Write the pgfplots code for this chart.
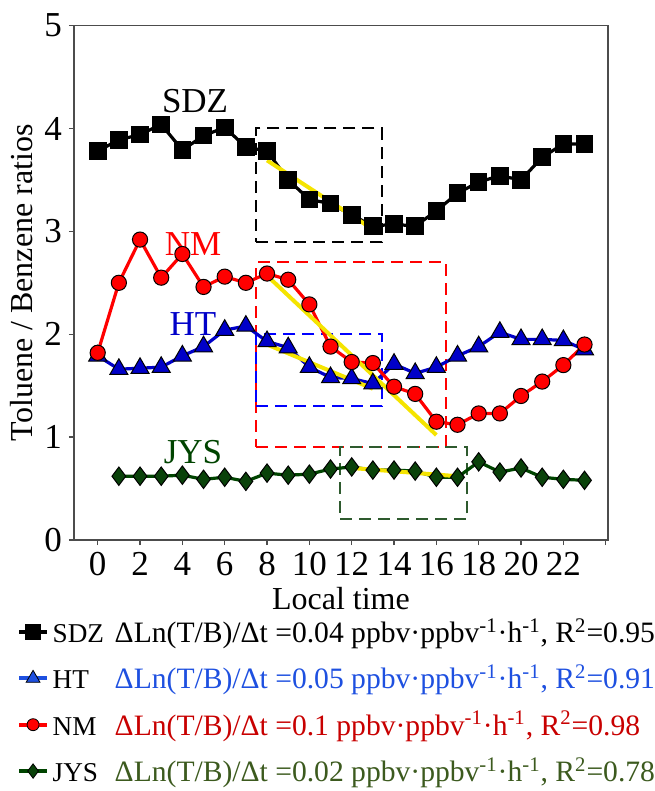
\documentclass[border=0pt]{standalone}
\usepackage{fontspec}
\setmainfont{Liberation Serif}
\usepackage{pgfplots}
\pgfplotsset{compat=1.18}

\definecolor{nmred}{HTML}{FF0000}
\definecolor{htblue}{HTML}{0000C8}
\definecolor{jysgreen}{HTML}{004400}
\definecolor{jysfill}{HTML}{0A420A}
\definecolor{fityellow}{HTML}{F5E400}
\definecolor{legblue}{HTML}{1E50E0}
\definecolor{legred}{HTML}{C80000}
\definecolor{leggreen}{HTML}{3C5A1E}
\definecolor{boxgreen}{HTML}{2E5A2E}

\pgfplotstableread{
hour sdz nm ht
0 3.78 1.82 1.79
1 3.89 2.50 1.66
2 3.94 2.92 1.67
3 4.04 2.55 1.68
4 3.79 2.78 1.79
5 3.93 2.46 1.88
6 4.01 2.56 2.04
7 3.82 2.50 2.08
8 3.78 2.59 1.93
9 3.50 2.53 1.87
10 3.31 2.29 1.68
11 3.27 1.88 1.58
12 3.16 1.73 1.57
13 3.05 1.72 1.52
14 3.07 1.49 1.71
15 3.05 1.42 1.62
16 3.20 1.15 1.68
17 3.37 1.12 1.79
18 3.48 1.23 1.88
19 3.54 1.23 2.02
20 3.50 1.40 1.95
21 3.72 1.54 1.95
22 3.85 1.70 1.94
23 3.85 1.90 1.85
}\ratios

\pgfplotstableread{
hour jys
1 0.62
2 0.62
3 0.62
4 0.63
5 0.59
6 0.61
7 0.57
8 0.65
9 0.63
10 0.64
11 0.69
12 0.71
13 0.68
14 0.68
15 0.67
16 0.61
17 0.61
18 0.76
19 0.66
20 0.70
21 0.61
22 0.59
23 0.58
}\jys

\newcommand{\stn}[1]{\makebox[31pt][l]{\fontsize{13.6}{15}\selectfont #1}}

\begin{document}
\begin{tikzpicture}
\useasboundingbox (-37pt,-125.5pt) rectangle (290pt,270pt);
\begin{axis}[
    scale only axis,
    width=266.9pt, height=257.2pt,
    xmin=-1.12, xmax=24.1, ymin=0, ymax=5,
    xtick={0,2,...,24},
    xticklabels={0,2,4,6,8,10,12,14,16,18,20,22,{}},
    ytick={0,1,...,5},
    tick align=outside,
    xtick pos=left, ytick pos=left,
    major tick length=2.5pt,
    axis line style={black!70, line width=0.7pt},
    every tick/.style={black!70, line width=0.7pt},
    /pgf/number format/assume math mode=true,
    tick label style={font=\fontsize{17.5}{17.5}\selectfont},
    label style={font=\fontsize{16}{16}\selectfont},
    xlabel={Local time},
    ylabel={Toluene / Benzene ratios},
    xlabel style={yshift=1pt},
    ylabel style={yshift=-1pt},
    legend cell align=left,
    legend style={
        at={(axis description cs:-0.118,-0.136)}, anchor=north west,
        draw=none, fill=none,
        font=\fontsize{14.8}{15}\selectfont,
        row sep=5.6pt,
    },
    legend image code/.code={
        \draw[mark repeat=2, mark phase=2]
            plot coordinates {(0cm,0cm) (0.24cm,0cm) (0.48cm,0cm)};
    },
]
% dashed boxes around the fitted periods
\addplot[forget plot, black, line width=1pt, dash pattern=on 6pt off 3.5pt]
    coordinates {(7.5,2.9) (13.45,2.9) (13.45,4.0) (7.5,4.0) (7.5,2.9)};
\addplot[forget plot, red, line width=1pt, dash pattern=on 6pt off 3.5pt]
    coordinates {(7.5,0.9) (16.45,0.9) (16.45,2.7) (7.5,2.7) (7.5,0.9)};
\addplot[forget plot, blue, line width=1pt, dash pattern=on 6pt off 3.5pt]
    coordinates {(7.5,1.3) (13.45,1.3) (13.45,2.0) (7.5,2.0) (7.5,1.3)};
\addplot[forget plot, boxgreen, line width=1pt, dash pattern=on 6pt off 3.5pt]
    coordinates {(11.45,0.2) (17.45,0.2) (17.45,0.9) (11.45,0.9) (11.45,0.2)};

% diurnal series
\addplot[forget plot, jysgreen, line width=1.6pt, mark=diamond*, mark size=4.6pt,
    mark options={solid, draw=black, line width=0.5pt, fill=jysfill}]
    table[x=hour, y=jys] {\jys};
\addplot[forget plot, htblue, line width=1.6pt, mark=triangle*, mark size=5.2pt,
    mark options={solid, draw=black, line width=0.5pt, fill=htblue}]
    table[x=hour, y=ht] {\ratios};
\addplot[forget plot, nmred, line width=1.6pt, mark=*, mark size=3.8pt,
    mark options={solid, draw=black, line width=0.5pt, fill=nmred}]
    table[x=hour, y=nm] {\ratios};
\addplot[forget plot, black, line width=1.6pt, mark=square*, mark size=3.6pt,
    mark options={solid, draw=black, fill=black}]
    table[x=hour, y=sdz] {\ratios};

% linear fits
\addplot[forget plot, fityellow, line width=2pt] coordinates {(8,3.69) (13,3.02)};
\addplot[forget plot, fityellow, line width=2pt] coordinates {(8,2.57) (16,1.02)};
\addplot[forget plot, fityellow, line width=2pt] coordinates {(8,1.90) (13,1.47)};
\addplot[forget plot, fityellow, line width=2pt] coordinates {(12,0.70) (17,0.62)};

% station labels
\node[font=\fontsize{17.5}{18}\selectfont, black] at (axis cs:4.6,4.27) {SDZ};
\node[font=\fontsize{17.5}{18}\selectfont, red] at (axis cs:4.5,2.88) {NM};
\node[font=\fontsize{17.5}{18}\selectfont, htblue] at (axis cs:4.5,2.10) {HT};
\node[font=\fontsize{17.5}{18}\selectfont, jysgreen] at (axis cs:4.5,0.85) {JYS};

% legend
\addlegendimage{black, line width=2pt, mark=square*, mark size=3pt,
    mark options={solid, fill=black}}
\addlegendentry{\stn{SDZ}ΔLn(T/B)/Δt =0.04 ppbv·ppbv\textsuperscript{-1}·h\textsuperscript{-1}, R\textsuperscript{2}=0.95}
\addlegendimage{legblue, line width=2pt, mark=triangle*, mark size=4pt,
    mark options={solid, draw=black, line width=0.4pt, fill=legblue}}
\addlegendentry{\stn{HT}\textcolor{legblue}{ΔLn(T/B)/Δt =0.05 ppbv·ppbv\textsuperscript{-1}·h\textsuperscript{-1}, R\textsuperscript{2}=0.91}}
\addlegendimage{nmred, line width=2pt, mark=*, mark size=3pt,
    mark options={solid, draw=black, line width=0.4pt, fill=nmred}}
\addlegendentry{\stn{NM}\textcolor{legred}{ΔLn(T/B)/Δt =0.1 ppbv·ppbv\textsuperscript{-1}·h\textsuperscript{-1}, R\textsuperscript{2}=0.98}}
\addlegendimage{jysgreen, line width=2pt, mark=diamond*, mark size=3.6pt,
    mark options={solid, draw=black, line width=0.4pt, fill=jysfill}}
\addlegendentry{\stn{JYS}\textcolor{leggreen}{ΔLn(T/B)/Δt =0.02 ppbv·ppbv\textsuperscript{-1}·h\textsuperscript{-1}, R\textsuperscript{2}=0.78}}
\end{axis}
\end{tikzpicture}
\end{document}
